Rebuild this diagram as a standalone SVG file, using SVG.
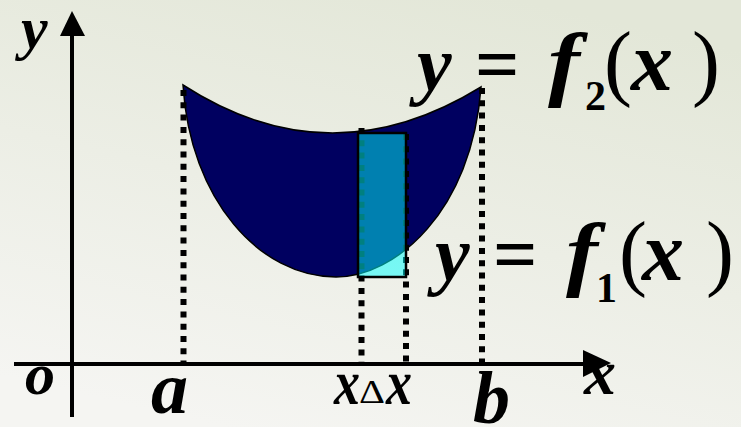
<svg xmlns="http://www.w3.org/2000/svg" width="741" height="427" viewBox="0 0 741 427">
<defs>
<linearGradient id="bg" x1="0.7" y1="0" x2="0.3" y2="1">
<stop offset="0" stop-color="#e3e7d8"/>
<stop offset="1" stop-color="#f5f5f2"/>
</linearGradient>
<style>
text{font-family:'Liberation Serif','Times New Roman',serif;fill:#000}
.bi{font-weight:bold;font-style:italic}
.bu{font-weight:bold}
.ru{font-weight:normal}
.dot{stroke:#000;stroke-width:6;stroke-dasharray:6 6.3;fill:none}
.axis{stroke:#000;stroke-width:4;fill:none}
</style>
</defs>
<rect width="741" height="427" fill="url(#bg)"/>
<g id="region">
<path d="M183,85 Q330,180 481,87 C472,212 395,277 336,277 C260,277 190,200 183,85 Z" fill="#000060" stroke="#000" stroke-width="1.5"/>
</g>
<g id="connectors">
<line class="axis" x1="14" y1="364" x2="590" y2="364"/>
<polygon points="583,350 611,363 583,377" fill="#000"/>
<line class="axis" x1="72" y1="417" x2="72" y2="30"/>
<polygon points="60,36 72,11 85,36" fill="#000"/>
<line class="dot" x1="183.5" y1="90" x2="183.5" y2="362"/>
<line class="dot" x1="361.5" y1="128" x2="361.5" y2="362"/>
<line class="dot" x1="406" y1="134" x2="406" y2="362"/>
<line class="dot" x1="482" y1="88" x2="482" y2="362"/>
</g>
<g id="strip">
<rect x="358" y="133" width="48" height="144" fill="#00ffff" fill-opacity="0.5" stroke="#000" stroke-width="2.5"/>
</g>
<g id="labels">
<text class="bi" x="21" y="48" font-size="60">y</text>
<text class="bi" x="25" y="394" font-size="60">o</text>
<text class="bi" x="151" y="413" font-size="74">a</text>
<text class="bi" x="473" y="423" font-size="74">b</text>
<text class="bi" x="584" y="394" font-size="64">x</text>
<text class="bi" x="334" y="404" font-size="64" textLength="26" lengthAdjust="spacingAndGlyphs">x</text>
<text class="ru" x="359" y="403" font-size="34" textLength="26" lengthAdjust="spacingAndGlyphs">Δ</text>
<text class="bi" x="386" y="404" font-size="64" textLength="26" lengthAdjust="spacingAndGlyphs">x</text>
</g>
<g id="label-f2">
<text class="bi" x="417" y="90" font-size="78">y</text>
<text class="bu" x="475" y="90" font-size="78">=</text>
<text class="bi" x="548" y="90" font-size="82" textLength="32" lengthAdjust="spacingAndGlyphs">f</text>
<text class="bu" x="585" y="110" font-size="42">2</text>
<text class="ru" x="604" y="90" font-size="84">(</text>
<text class="bi" x="631" y="90" font-size="84">x</text>
<text class="ru" x="692" y="90" font-size="84">)</text>
</g>
<g id="label-f1">
<text class="bi" x="435" y="280" font-size="78">y</text>
<text class="bu" x="493" y="280" font-size="78">=</text>
<text class="bi" x="566" y="280" font-size="82" textLength="32" lengthAdjust="spacingAndGlyphs">f</text>
<text class="bu" x="596" y="302" font-size="42">1</text>
<text class="ru" x="619" y="280" font-size="84">(</text>
<text class="bi" x="642" y="280" font-size="84">x</text>
<text class="ru" x="706" y="280" font-size="84">)</text>
</g>
</svg>
